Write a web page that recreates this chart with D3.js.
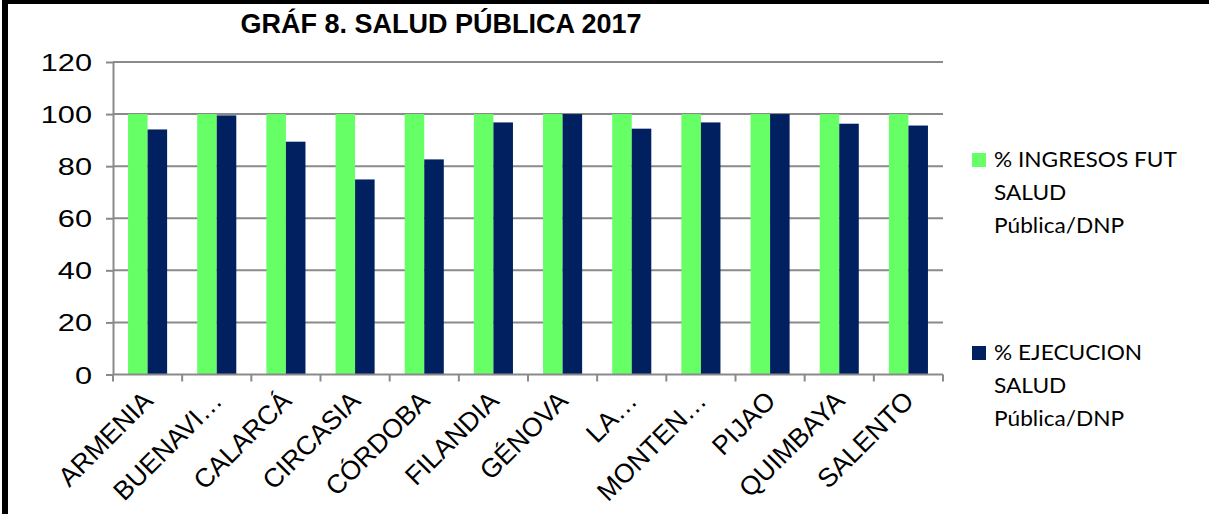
<!DOCTYPE html>
<html>
<head>
<meta charset="utf-8">
<script src="https://cdn.jsdelivr.net/npm/d3@7"></script>
<style>
	body { margin: 0; background: #fff; }
	svg { display: block; }
</style>
</head>
<body>
<svg id="chart"></svg>
<script>
var municipios = ["ARMENIA", "BUENAVI\u2026", "CALARCÁ", "CIRCASIA", "CÓRDOBA", "FILANDIA",
	"GÉNOVA", "LA\u2026", "MONTEN\u2026", "PIJAO", "QUIMBAYA", "SALENTO"];
var ingresos = [100, 100, 100, 100, 100, 100, 100, 100, 100, 100, 100, 100];
var ejecucion = [94.1, 99.5, 89.4, 74.9, 82.6, 96.8, 100, 94.4, 96.8, 100, 96.3, 95.6];
var seriesNames = ["ingresos", "ejecucion"];
var legendLines = [
	["% INGRESOS FUT", "SALUD", "Pública/DNP"],
	["% EJECUCION", "SALUD", "Pública/DNP"]
];
var yTicks = [0, 20, 40, 60, 80, 100, 120];
var colors = { ingresos: "#66ff66", ejecucion: "#002060" };

var W = 1209, H = 514,
	plot = { left: 113, right: 943, top: 62, bottom: 374.5 };

var svg = d3.select('#chart').attr('width', W).attr('height', H);

// outer frame (only top + left show)
svg.append('rect').attr('x', 2).attr('y', 0).attr('width', 6).attr('height', H).attr('fill', '#000');
svg.append('rect').attr('x', 2).attr('y', 0).attr('width', W).attr('height', 4).attr('fill', '#000');

var x = d3.scaleBand().domain(municipios).range([plot.left, plot.right]).padding(0);
var x1 = d3.scaleBand().domain(seriesNames).range([0, x.bandwidth()]).paddingInner(0).paddingOuter(0.77);
var y = d3.scaleLinear().domain([0, 120]).range([plot.bottom, plot.top]);

var data = municipios.map(function(m, i) {
	return { name: m, ingresos: ingresos[i], ejecucion: ejecucion[i] };
});

// gridlines
svg.append('g').selectAll('line')
	.data(yTicks.filter(function(d){ return d > 0; }))
	.enter().append('line')
	.attr('x1', plot.left).attr('x2', plot.right)
	.attr('y1', function(d){ return y(d); }).attr('y2', function(d){ return y(d); })
	.attr('stroke', '#8a8a8a').attr('stroke-width', 2);

// bars
var groups = svg.append('g').selectAll('g')
	.data(data)
	.enter().append('g')
	.attr('transform', function(d){ return 'translate(' + x(d.name) + ',0)'; });

groups.selectAll('rect')
	.data(function(d){ return seriesNames.map(function(k){ return { key: k, value: d[k] }; }); })
	.enter().append('rect')
	.attr('x', function(d){ return x1(d.key); })
	.attr('y', function(d){ return y(d.value); })
	.attr('width', x1.bandwidth())
	.attr('height', function(d){ return y(0) - y(d.value); })
	.attr('fill', function(d){ return colors[d.key]; });

// y axis
var yAxis = svg.append('g')
	.attr('transform', 'translate(' + plot.left + ',0)')
	.call(d3.axisLeft(y).tickValues(yTicks).tickSize(7).tickSizeOuter(0).tickPadding(0));
yAxis.select('.domain').attr('stroke', '#8a8a8a').attr('stroke-width', 2);
yAxis.selectAll('.tick line').attr('stroke', '#8a8a8a').attr('stroke-width', 2);
yAxis.selectAll('.tick text').remove();
yAxis.selectAll('.tick').append('text')
	.attr('fill', '#000')
	.attr('font-family', 'Liberation Sans, Arial, sans-serif')
	.attr('font-size', 24)
	.attr('text-anchor', 'end')
	.attr('transform', 'translate(-21,8.5) scale(1.28,1)')
	.text(function(d){ return d; });

// x axis: ticks at category boundaries
var xAxis = svg.append('g').attr('transform', 'translate(0,' + plot.bottom + ')');
xAxis.append('line')
	.attr('x1', plot.left).attr('x2', plot.right)
	.attr('stroke', '#8a8a8a').attr('stroke-width', 2);
xAxis.selectAll('.xtick')
	.data(municipios.map(function(m){ return x(m); }).concat([plot.right]))
	.enter().append('line')
	.attr('class', 'xtick')
	.attr('x1', function(d){ return d; }).attr('x2', function(d){ return d; })
	.attr('y1', 0).attr('y2', 7)
	.attr('stroke', '#8a8a8a').attr('stroke-width', 2);
xAxis.selectAll('.xlabel')
	.data(municipios)
	.enter().append('text')
	.attr('class', 'xlabel')
	.attr('font-family', 'Liberation Sans, Arial, sans-serif')
	.attr('font-size', 26.5)
	.attr('text-anchor', 'end')
	.attr('transform', function(d){
		return 'translate(' + (x(d) + x.bandwidth() / 2 + 7) + ',28) rotate(-45)';
	})
	.text(function(d){ return d; });

// title
svg.append('text')
	.attr('x', 441).attr('y', 33)
	.attr('text-anchor', 'middle')
	.attr('font-family', 'Liberation Sans, Arial, sans-serif')
	.attr('font-weight', 'bold')
	.attr('font-size', 27)
	.text('GRÁF 8. SALUD PÚBLICA 2017');

// legend
var legend = svg.append('g').selectAll('g')
	.data(seriesNames)
	.enter().append('g')
	.attr('transform', function(d, i){ return 'translate(972,' + (153 + i * 193) + ')'; });
legend.append('rect')
	.attr('width', 14).attr('height', 14)
	.attr('fill', function(d){ return colors[d]; });
legend.each(function(d, i){
	var t = d3.select(this).append('text')
		.attr('font-family', 'Lato, Noto Sans, sans-serif')
		.attr('font-size', 21)
		.attr('transform', 'translate(22,14) scale(1.08,1)');
	t.selectAll('tspan')
		.data(legendLines[i])
		.enter().append('tspan')
		.attr('x', 0)
		.attr('y', function(l, j){ return j * 33; })
		.text(function(l){ return l; });
});
</script>
</body>
</html>
